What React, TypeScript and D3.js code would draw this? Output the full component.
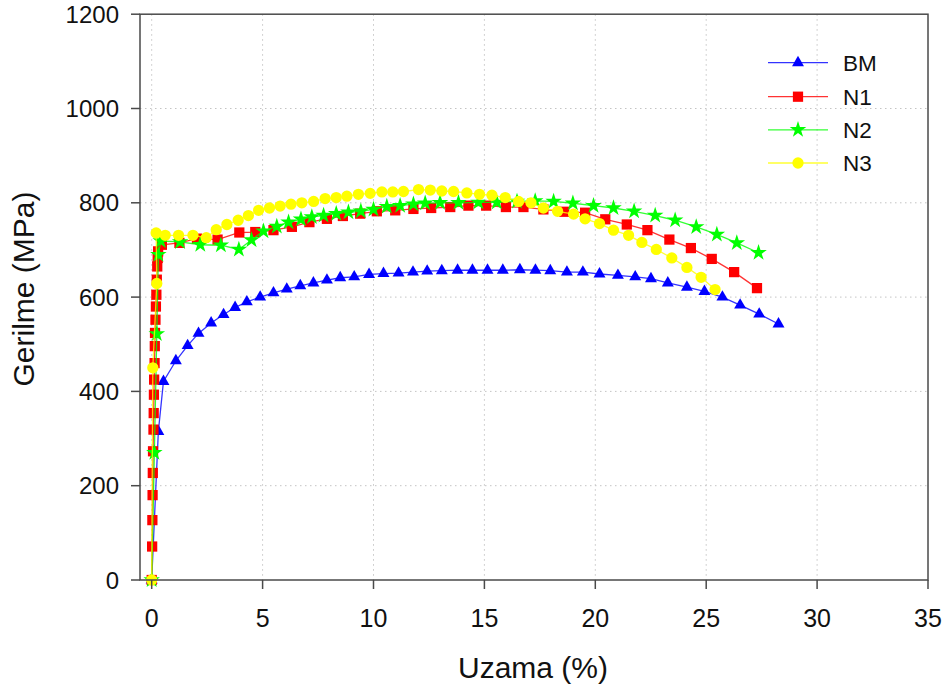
import React from "react";
import * as d3 from "d3";

const bmStrain = [0, 0.3, 0.53, 1.09, 1.62, 2.11, 2.68, 3.24, 3.76, 4.29, 4.89, 5.49, 6.09, 6.7, 7.29, 7.9, 8.5, 9.13, 9.8, 10.45, 11.13, 11.78, 12.42, 13.08, 13.79, 14.46, 15.14, 15.83, 16.6, 17.3, 17.97, 18.72, 19.44, 20.19, 21.02, 21.8, 22.51, 23.27, 24.13, 24.92, 25.73, 26.53, 27.39, 28.26];
const bmStress = [0, 315, 421, 465, 497, 523, 545, 563, 578, 590, 600, 609, 617, 624, 630, 636, 641, 643, 648, 650, 651, 653, 655, 656, 657, 657, 657, 657, 658, 657, 656, 653, 653, 649, 646, 643, 639, 630, 621, 612, 600, 583, 564, 543];

const n1Strain = [0, 0.02, 0.03, 0.04, 0.05, 0.06, 0.08, 0.09, 0.1, 0.11, 0.13, 0.14, 0.15, 0.17, 0.19, 0.21, 0.23, 0.25, 0.27, 0.29, 0.46, 1.25, 2.04, 2.97, 3.95, 4.67, 5.49, 6.32, 7.11, 7.9, 8.62, 9.4, 10.15, 10.98, 11.8, 12.6, 13.46, 14.28, 15.08, 15.97, 16.76, 17.66, 18.6, 19.54, 20.45, 21.42, 22.35, 23.34, 24.31, 25.25, 26.26, 27.29];
const n1Stress = [0, 71, 127, 180, 227, 273, 319, 354, 393, 425, 460, 496, 524, 552, 580, 605, 637, 665, 683, 697, 711, 715, 724, 722, 737, 738, 742, 749, 759, 766, 772, 777, 782, 784, 787, 789, 791, 794, 794, 791, 791, 786, 781, 779, 765, 754, 742, 722, 704, 681, 653, 619];

const n2Strain = [0, 0.12, 0.23, 0.3, 0.41, 1.28, 2.19, 3.12, 3.93, 4.5, 5.04, 5.64, 6.17, 6.73, 7.22, 7.75, 8.32, 8.87, 9.43, 10.0, 10.6, 11.2, 11.8, 12.33, 13.0, 13.83, 14.73, 15.56, 16.47, 17.29, 18.12, 18.99, 19.92, 20.82, 21.75, 22.7, 23.6, 24.55, 25.48, 26.38, 27.36];
const n2Stress = [0, 270, 522, 690, 719, 717, 711, 710, 701, 721, 740, 750, 759, 765, 770, 773, 777, 780, 782, 786, 792, 794, 797, 799, 800, 800, 801, 801, 803, 804, 803, 799, 794, 789, 782, 773, 763, 749, 733, 715, 694];

const n3Strain = [0, 0.05, 0.23, 0.2, 0.61, 1.21, 1.86, 2.46, 2.91, 3.39, 3.9, 4.36, 4.82, 5.31, 5.79, 6.28, 6.77, 7.3, 7.82, 8.32, 8.8, 9.32, 9.85, 10.38, 10.87, 11.35, 12.03, 12.56, 13.08, 13.61, 14.21, 14.78, 15.34, 15.94, 16.54, 17.1, 17.66, 18.3, 19.02, 19.54, 20.19, 20.82, 21.5, 22.1, 22.75, 23.45, 24.13, 24.77, 25.4];
const n3Stress = [0, 450, 629, 736, 731, 731, 731, 726, 743, 754, 763, 773, 784, 789, 793, 797, 800, 803, 809, 811, 814, 818, 820, 823, 823, 824, 828, 827, 825, 824, 821, 818, 816, 811, 803, 800, 789, 782, 776, 766, 756, 742, 731, 716, 701, 683, 663, 642, 616];

const seriesNames = ["BM", "N1", "N2", "N3"];
const seriesColors = ["#0000ff", "#ff0000", "#00ff00", "#ffff00"];
const xTicks = [0, 5, 10, 15, 20, 25, 30, 35];
const yTicks = [0, 200, 400, 600, 800, 1000, 1200];
const xLabel = "Uzama (%)";
const yLabel = "Gerilme (MPa)";

const FONT = "'Liberation Sans', Arial, Helvetica, sans-serif";

export default function App() {
  const W = 948, H = 692;
  const left = 140, right = 928, top = 14.2, bottom = 580;
  const x0px = 151.7;
  const pxPerUnit = (right - x0px) / 35;
  const xMin = (left - x0px) / pxPerUnit;
  const x = d3.scaleLinear().domain([xMin, 35]).range([left, right]);
  const y = d3.scaleLinear().domain([0, 1200]).range([bottom, top]);

  const series = [
    { xs: bmStrain, ys: bmStress, sym: d3.symbolTriangle, size: 62 },
    { xs: n1Strain, ys: n1Stress, sym: d3.symbolSquare, size: 105 },
    { xs: n2Strain, ys: n2Stress, sym: d3.symbolStar, size: 85 },
    { xs: n3Strain, ys: n3Stress, sym: d3.symbolCircle, size: 100 },
  ];

  const line = d3.line<[number, number]>().x((d) => x(d[0])).y((d) => y(d[1]));

  return (
    <svg width={W} height={H} style={{ position: "absolute", left: 0, top: 0, background: "#fff" }}>
      <rect x={0} y={0} width={W} height={H} fill="#fff" />
      {xTicks.filter((t) => t > 0 && t < 35).concat([0]).map((t) => (
        <line key={"gx" + t} x1={x(t)} x2={x(t)} y1={top} y2={bottom} stroke="#c4c4c4" strokeWidth={1} strokeDasharray="1.5,3.5" />
      ))}
      {yTicks.filter((t) => t > 0 && t < 1200).map((t) => (
        <line key={"gy" + t} x1={left} x2={right} y1={y(t)} y2={y(t)} stroke="#c4c4c4" strokeWidth={1} strokeDasharray="1.5,3.5" />
      ))}
      {series.map((s, i) => {
        const pts: [number, number][] = s.xs.map((v, k) => [v, s.ys[k]]);
        const sym = d3.symbol().type(s.sym).size(s.size)();
        return (
          <g key={"s" + i}>
            <path d={line(pts) || ""} fill="none" stroke={seriesColors[i]} strokeWidth={1.3} strokeOpacity={0.8} />
            {pts.map((p, k) => (
              <path key={k} d={sym || ""} transform={`translate(${x(p[0])},${y(p[1])})`} fill={seriesColors[i]} />
            ))}
          </g>
        );
      })}
      <rect x={left} y={top} width={right - left} height={bottom - top} fill="none" stroke="#4a4a4a" strokeWidth={1.5} />
      {xTicks.map((t) => (
        <g key={"xt" + t}>
          <line x1={x(t)} x2={x(t)} y1={bottom} y2={bottom + 9} stroke="#4a4a4a" strokeWidth={1.5} />
          <text x={x(t)} y={627} textAnchor="middle" fontFamily={FONT} fontSize={25} fill="#111">{t}</text>
        </g>
      ))}
      {yTicks.map((t) => (
        <g key={"yt" + t}>
          <line x1={left - 9} x2={left} y1={y(t)} y2={y(t)} stroke="#4a4a4a" strokeWidth={1.5} />
          <text x={119} y={y(t) + 8.5} textAnchor="end" fontFamily={FONT} fontSize={24} fill="#111">{t}</text>
        </g>
      ))}
      <text x={533} y={678} textAnchor="middle" fontFamily={FONT} fontSize={30} fill="#111">{xLabel}</text>
      <text transform="translate(34,289) rotate(-90)" textAnchor="middle" fontFamily={FONT} fontSize={30} fill="#111">{yLabel}</text>
      {seriesNames.map((name, i) => {
        const ly = [62.7, 96.7, 129.8, 163][i];
        const sym = d3.symbol().type(series[i].sym).size(series[i].size)();
        return (
          <g key={"lg" + i}>
            <line x1={768} x2={828} y1={ly} y2={ly} stroke={seriesColors[i]} strokeWidth={1.3} strokeOpacity={0.8} />
            <path d={sym || ""} transform={`translate(798,${ly})`} fill={seriesColors[i]} />
            <text x={843} y={ly + 8} fontFamily={FONT} fontSize={22.5} fill="#111">{name}</text>
          </g>
        );
      })}
    </svg>
  );
}
